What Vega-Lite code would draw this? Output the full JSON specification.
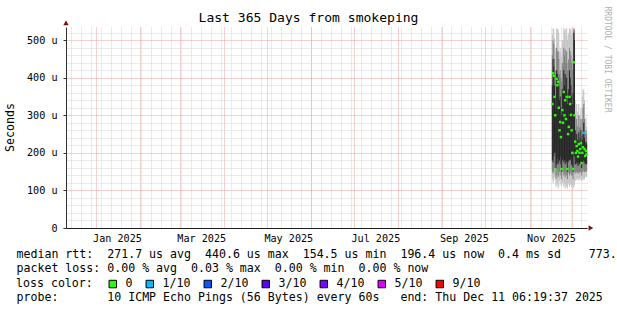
{
  "$schema": "https://vega.github.io/schema/vega-lite/v6.json",
  "width": 521,
  "height": 201,
  "autosize": "none",
  "padding": {"left": 66, "top": 27, "right": 30, "bottom": 82},
  "background": "white",
  "title": {"text": "Last 365 Days from smokeping", "font": "DejaVu Sans Mono", "fontSize": 13.05, "fontWeight": "normal", "color": "black", "anchor": "middle", "frame": "group", "dx": -18, "dy": 23, "offset": 4},
  "datasets": {
    "smoke": [
      {"t": "2025-11-17T00:00:00", "lo": 130, "q1": 150, "q2": 180, "q3": 380, "q4": 460, "hi": 515, "med": 330, "loss": "0"},
      {"t": "2025-11-17T12:00:00", "lo": 120, "q1": 145, "q2": 175, "q3": 450, "q4": 500, "hi": 532, "med": 412, "loss": "0"},
      {"t": "2025-11-18T00:00:00", "lo": 125, "q1": 150, "q2": 190, "q3": 430, "q4": 490, "hi": 530, "med": 405, "loss": "0"},
      {"t": "2025-11-18T12:00:00", "lo": 135, "q1": 160, "q2": 200, "q3": 380, "q4": 450, "hi": 505, "med": 349, "loss": "0"},
      {"t": "2025-11-19T00:00:00", "lo": 140, "q1": 165, "q2": 200, "q3": 350, "q4": 420, "hi": 480, "med": 300, "loss": "0"},
      {"t": "2025-11-19T12:00:00", "lo": 110, "q1": 130, "q2": 160, "q3": 320, "q4": 410, "hi": 470, "med": 154, "loss": "0"},
      {"t": "2025-11-20T00:00:00", "lo": 115, "q1": 140, "q2": 170, "q3": 420, "q4": 480, "hi": 532, "med": 397, "loss": "0"},
      {"t": "2025-11-20T12:00:00", "lo": 120, "q1": 150, "q2": 185, "q3": 410, "q4": 470, "hi": 528, "med": 380, "loss": "0"},
      {"t": "2025-11-21T00:00:00", "lo": 105, "q1": 135, "q2": 170, "q3": 400, "q4": 470, "hi": 530, "med": 389, "loss": "0"},
      {"t": "2025-11-21T12:00:00", "lo": 110, "q1": 140, "q2": 175, "q3": 380, "q4": 450, "hi": 520, "med": 320, "loss": "0"},
      {"t": "2025-11-22T00:00:00", "lo": 125, "q1": 150, "q2": 180, "q3": 340, "q4": 410, "hi": 470, "med": 260, "loss": "0"},
      {"t": "2025-11-22T12:00:00", "lo": 130, "q1": 160, "q2": 190, "q3": 350, "q4": 420, "hi": 480, "med": 282, "loss": "0"},
      {"t": "2025-11-23T00:00:00", "lo": 115, "q1": 140, "q2": 170, "q3": 320, "q4": 400, "hi": 465, "med": 242, "loss": "0"},
      {"t": "2025-11-23T12:00:00", "lo": 110, "q1": 130, "q2": 150, "q3": 300, "q4": 390, "hi": 455, "med": 157, "loss": "0"},
      {"t": "2025-11-24T00:00:00", "lo": 120, "q1": 150, "q2": 180, "q3": 370, "q4": 440, "hi": 500, "med": 314, "loss": "0"},
      {"t": "2025-11-24T12:00:00", "lo": 125, "q1": 155, "q2": 185, "q3": 360, "q4": 430, "hi": 495, "med": 280, "loss": "0"},
      {"t": "2025-11-25T00:00:00", "lo": 110, "q1": 140, "q2": 175, "q3": 420, "q4": 480, "hi": 532, "med": 362, "loss": "0"},
      {"t": "2025-11-25T12:00:00", "lo": 115, "q1": 145, "q2": 180, "q3": 380, "q4": 460, "hi": 525, "med": 300, "loss": "0"},
      {"t": "2025-11-26T00:00:00", "lo": 105, "q1": 135, "q2": 170, "q3": 410, "q4": 475, "hi": 530, "med": 340, "loss": "0"},
      {"t": "2025-11-26T12:00:00", "lo": 120, "q1": 150, "q2": 180, "q3": 370, "q4": 440, "hi": 510, "med": 290, "loss": "0"},
      {"t": "2025-11-27T00:00:00", "lo": 110, "q1": 140, "q2": 175, "q3": 400, "q4": 470, "hi": 532, "med": 349, "loss": "0"},
      {"t": "2025-11-27T12:00:00", "lo": 105, "q1": 130, "q2": 150, "q3": 330, "q4": 420, "hi": 500, "med": 157, "loss": "0"},
      {"t": "2025-11-28T00:00:00", "lo": 115, "q1": 145, "q2": 175, "q3": 360, "q4": 440, "hi": 515, "med": 250, "loss": "0"},
      {"t": "2025-11-28T12:00:00", "lo": 120, "q1": 150, "q2": 180, "q3": 370, "q4": 450, "hi": 520, "med": 269, "loss": "0"},
      {"t": "2025-11-29T00:00:00", "lo": 110, "q1": 140, "q2": 180, "q3": 420, "q4": 480, "hi": 532, "med": 349, "loss": "0"},
      {"t": "2025-11-29T12:00:00", "lo": 115, "q1": 145, "q2": 180, "q3": 400, "q4": 470, "hi": 530, "med": 330, "loss": "0"},
      {"t": "2025-11-30T00:00:00", "lo": 120, "q1": 150, "q2": 185, "q3": 380, "q4": 460, "hi": 525, "med": 301, "loss": "0"},
      {"t": "2025-11-30T12:00:00", "lo": 110, "q1": 140, "q2": 170, "q3": 350, "q4": 440, "hi": 515, "med": 260, "loss": "0"},
      {"t": "2025-12-01T00:00:00", "lo": 115, "q1": 140, "q2": 165, "q3": 330, "q4": 420, "hi": 500, "med": 200, "loss": "0"},
      {"t": "2025-12-01T12:00:00", "lo": 105, "q1": 130, "q2": 150, "q3": 360, "q4": 450, "hi": 520, "med": 157, "loss": "0"},
      {"t": "2025-12-02T00:00:00", "lo": 110, "q1": 150, "q2": 200, "q3": 520, "q4": 530, "hi": 533, "med": 441, "loss": "0"},
      {"t": "2025-12-02T12:00:00", "lo": 115, "q1": 150, "q2": 190, "q3": 500, "q4": 525, "hi": 532, "med": 300, "loss": "0"},
      {"t": "2025-12-03T00:00:00", "lo": 125, "q1": 145, "q2": 170, "q3": 260, "q4": 300, "hi": 340, "med": 230, "loss": "0"},
      {"t": "2025-12-03T12:00:00", "lo": 130, "q1": 150, "q2": 170, "q3": 230, "q4": 260, "hi": 290, "med": 200, "loss": "0"},
      {"t": "2025-12-04T00:00:00", "lo": 128, "q1": 148, "q2": 175, "q3": 250, "q4": 290, "hi": 330, "med": 218, "loss": "0"},
      {"t": "2025-12-04T12:00:00", "lo": 132, "q1": 150, "q2": 172, "q3": 235, "q4": 270, "hi": 310, "med": 205, "loss": "0"},
      {"t": "2025-12-05T00:00:00", "lo": 130, "q1": 145, "q2": 165, "q3": 220, "q4": 250, "hi": 280, "med": 190, "loss": "0"},
      {"t": "2025-12-05T12:00:00", "lo": 125, "q1": 145, "q2": 175, "q3": 255, "q4": 300, "hi": 330, "med": 223, "loss": "0"},
      {"t": "2025-12-06T00:00:00", "lo": 130, "q1": 150, "q2": 170, "q3": 230, "q4": 265, "hi": 300, "med": 200, "loss": "0"},
      {"t": "2025-12-06T12:00:00", "lo": 135, "q1": 150, "q2": 172, "q3": 240, "q4": 270, "hi": 295, "med": 210, "loss": "0"},
      {"t": "2025-12-07T00:00:00", "lo": 128, "q1": 148, "q2": 175, "q3": 260, "q4": 290, "hi": 320, "med": 226, "loss": "0"},
      {"t": "2025-12-07T12:00:00", "lo": 125, "q1": 140, "q2": 160, "q3": 210, "q4": 245, "hi": 280, "med": 173, "loss": "0"},
      {"t": "2025-12-08T00:00:00", "lo": 130, "q1": 150, "q2": 170, "q3": 235, "q4": 290, "hi": 350, "med": 200, "loss": "0"},
      {"t": "2025-12-08T12:00:00", "lo": 128, "q1": 150, "q2": 175, "q3": 250, "q4": 320, "hi": 370, "med": 215, "loss": "0"},
      {"t": "2025-12-09T00:00:00", "lo": 132, "q1": 155, "q2": 180, "q3": 280, "q4": 330, "hi": 365, "med": 253, "loss": "1/10"},
      {"t": "2025-12-09T12:00:00", "lo": 130, "q1": 150, "q2": 175, "q3": 240, "q4": 290, "hi": 340, "med": 210, "loss": "0"},
      {"t": "2025-12-10T00:00:00", "lo": 135, "q1": 150, "q2": 170, "q3": 220, "q4": 250, "hi": 290, "med": 192, "loss": "0"},
      {"t": "2025-12-10T12:00:00", "lo": 138, "q1": 152, "q2": 172, "q3": 230, "q4": 260, "hi": 295, "med": 205, "loss": "0"},
      {"t": "2025-12-11T00:00:00", "lo": 135, "q1": 150, "q2": 170, "q3": 225, "q4": 250, "hi": 270, "med": 196, "loss": "0"}
    ],
    "arrows": [
      {"t": "2024-12-11T06:19:37", "v": 546, "dir": "up"},
      {"t": "2025-12-14T00:00:00", "v": 0, "dir": "right"}
    ]
  },
  "data": {"name": "smoke"},
  "resolve": {"scale": {"x": "shared", "y": "shared"}, "axis": {"x": "independent", "y": "independent"}},
  "layer": [
    {
      "mark": {"type": "bar", "width": 1, "color": "#c4c4c4"},
      "encoding": {
        "x": {"field": "t", "type": "temporal",
          "scale": {"domain": [{"year": 2024, "month": 12, "date": 11, "hours": 6, "minutes": 19, "seconds": 37}, {"year": 2025, "month": 12, "date": 11, "hours": 6, "minutes": 19, "seconds": 37}], "padding": 0, "nice": false},
          "axis": {"orient": "bottom", "labels": false, "ticks": false, "domain": false, "title": null, "grid": true, "gridColor": "#d4d4d4", "gridDash": [1, 1], "gridWidth": 1, "tickCount": {"interval": "week", "step": 1}}},
        "y": {"field": "lo", "type": "quantitative", "scale": {"domain": [0, 535], "nice": false, "zero": true, "padding": 0},
          "axis": {"orient": "left", "labels": false, "ticks": false, "domain": false, "title": null, "grid": true, "gridColor": "#d4d4d4", "gridDash": [1, 1], "values": [20, 40, 60, 80, 120, 140, 160, 180, 220, 240, 260, 280, 320, 340, 360, 380, 420, 440, 460, 480, 520]}},
        "y2": {"field": "hi"}
      }
    },
    {
      "mark": {"type": "bar", "width": 1, "color": "#808080"},
      "encoding": {
        "x": {"field": "t", "type": "temporal",
          "axis": {"orient": "bottom", "labels": false, "ticks": false, "domain": false, "title": null, "grid": true, "gridColor": "#eaa0a0", "gridDash": [1, 1], "gridWidth": 1, "tickCount": {"interval": "month", "step": 1}}},
        "y": {"field": "q1", "type": "quantitative",
          "axis": {"orient": "left", "values": [0, 100, 200, 300, 400, 500], "labelExpr": "datum.value == 0 ? '0' : datum.value + ' u'", "labelFont": "DejaVu Sans Mono", "labelFontSize": 10.15, "labelColor": "black", "labelPadding": 6, "ticks": true, "tickSize": 3, "tickColor": "#303030", "domain": true, "domainColor": "#303030", "grid": true, "gridColor": "#eaa0a0", "gridDash": [1, 1],
            "title": "Seconds", "titleFont": "DejaVu Sans Mono", "titleFontSize": 11.6, "titleFontWeight": "normal", "titleColor": "black", "titleAngle": 270, "titleX": -56, "titleY": 100, "titleAlign": "center", "titleBaseline": "middle"}},
        "y2": {"field": "q4"}
      }
    },
    {
      "mark": {"type": "bar", "width": 1, "color": "#262626"},
      "encoding": {
        "x": {"field": "t", "type": "temporal",
          "axis": {"orient": "bottom", "grid": false, "ticks": false, "domain": true, "domainColor": "#202020",
            "values": [{"year": 2025, "month": 1, "date": 16}, {"year": 2025, "month": 3, "date": 16}, {"year": 2025, "month": 5, "date": 16}, {"year": 2025, "month": 7, "date": 16}, {"year": 2025, "month": 9, "date": 16}, {"year": 2025, "month": 11, "date": 16}],
            "format": "%b %Y", "labelFont": "DejaVu Sans Mono", "labelFontSize": 10.15, "labelColor": "black", "labelPadding": 5, "labelAlign": "center",
            "title": ["median rtt:\u00a0\u00a0271.7 us avg\u00a0\u00a0440.6 us max\u00a0\u00a0154.5 us min\u00a0\u00a0196.4 us now\u00a0\u00a00.4 ms sd\u00a0\u00a0\u00a0\u00a0773.0 us am/as", "packet loss: 0.00 % avg\u00a0\u00a00.03 % max\u00a0\u00a00.00 % min\u00a0\u00a00.00 % now"],
            "titleFont": "DejaVu Sans Mono", "titleFontSize": 11.6, "titleFontWeight": "normal", "titleColor": "black", "titleAlign": "left", "titleBaseline": "alphabetic", "titleX": -50, "titleY": 29.5, "titleLineHeight": 14.2}},
        "y": {"field": "q2", "type": "quantitative",
          "axis": {"orient": "right", "labels": false, "ticks": false, "domain": false, "grid": false,
            "title": "RRDTOOL / TOBI OETIKER", "titleFont": "DejaVu Sans Mono", "titleFontSize": 8, "titleFontWeight": "normal", "titleColor": "#b0b0b0", "titleAngle": 90, "titleX": 19, "titleY": 32, "titleAlign": "center", "titleBaseline": "middle"}},
        "y2": {"field": "q3"}
      }
    },
    {
      "mark": {"type": "square", "size": 6, "filled": true, "opacity": 1},
      "encoding": {
        "x": {"field": "t", "type": "temporal",
          "axis": {"orient": "bottom", "labels": false, "ticks": false, "domain": false, "grid": false,
            "title": "probe:\u00a0\u00a0\u00a0\u00a0\u00a0\u00a0\u00a010 ICMP Echo Pings (56 Bytes) every 60s\u00a0\u00a0\u00a0end: Thu Dec 11 06:19:37 2025",
            "titleFont": "DejaVu Sans Mono", "titleFontSize": 11.6, "titleFontWeight": "normal", "titleColor": "black", "titleAlign": "left", "titleBaseline": "alphabetic", "titleX": -50, "titleY": 72, "titleLimit": 700}},
        "y": {"field": "med", "type": "quantitative", "axis": null},
        "color": {"field": "loss", "type": "nominal",
          "scale": {"domain": ["0", "1/10", "2/10", "3/10", "4/10", "5/10", "9/10"], "range": ["#26ff00", "#00b8ff", "#0059ff", "#5e00ff", "#7e00ff", "#dd00ff", "#ff0000"]},
          "legend": {"orient": "none", "legendX": -50, "legendY": 251, "direction": "horizontal", "title": "loss color:", "titleOrient": "left", "titleFont": "DejaVu Sans Mono", "titleFontSize": 11.6, "titleFontWeight": "normal", "titleColor": "black", "titlePadding": 14, "labelFont": "DejaVu Sans Mono", "labelFontSize": 11.6, "labelColor": "black", "symbolType": "square", "symbolSize": 56, "symbolStrokeColor": "black", "symbolStrokeWidth": 1, "symbolOpacity": 1, "labelOffset": 7, "columnPadding": 11, "padding": 0}}
      }
    },
    {
      "data": {"name": "arrows"},
      "mark": {"type": "point", "filled": true, "size": 30, "color": "#7a1414", "opacity": 1},
      "encoding": {
        "x": {"field": "t", "type": "temporal", "axis": null},
        "y": {"field": "v", "type": "quantitative", "axis": null},
        "shape": {"field": "dir", "type": "nominal", "scale": {"domain": ["up", "right"], "range": ["triangle-up", "triangle-right"]}, "legend": null}
      }
    }
  ],
  "config": {"view": {"stroke": null}, "font": "DejaVu Sans Mono"}
}
